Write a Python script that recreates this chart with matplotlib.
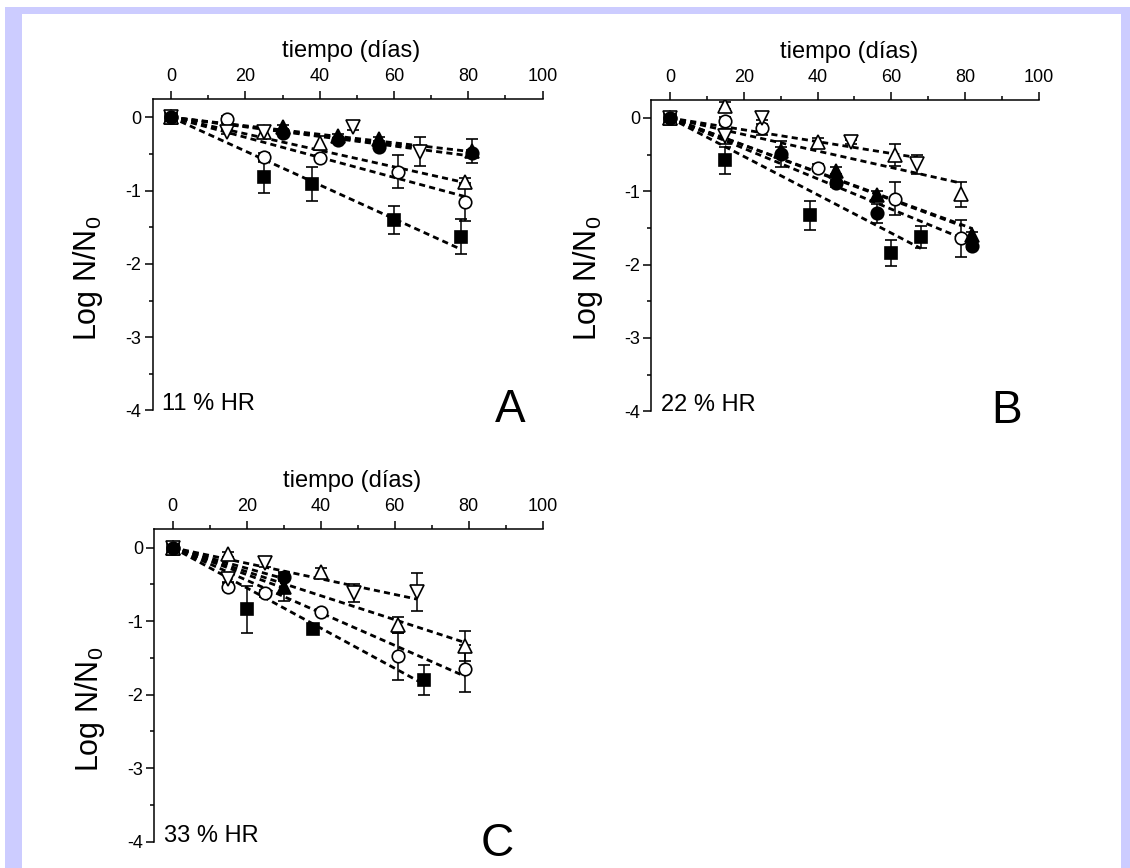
import matplotlib
matplotlib.use('Agg')
import matplotlib.pyplot as plt
from matplotlib.patches import Rectangle
from matplotlib.ticker import MultipleLocator

plt.rcParams['font.family'] = 'Liberation Sans'
plt.rcParams['axes.unicode_minus'] = False

# ---- panel A : 11 % HR ----
a_sq_t = [0, 25, 38, 60, 78]
a_sq = [0, -0.82, -0.91, -1.40, -1.63]
a_sq_err = [0.03, 0.21, 0.23, 0.19, 0.24]
a_oc_t = [0, 15, 25, 40, 61, 79]
a_oc = [0, -0.03, -0.54, -0.55, -0.74, -1.16]
a_oc_err = [0.03, 0.05, 0.05, 0.03, 0.22, 0.26]
a_ft_t = [0, 30, 45, 56, 81]
a_ft = [0, -0.13, -0.26, -0.30, -0.46]
a_ft_err = [0.03, 0.03, 0.03, 0.03, 0.16]
a_ot_t = [0, 25, 40, 79]
a_ot = [0, -0.20, -0.35, -0.88]
a_ot_err = [0.03, 0.05, 0.10, 0.05]
a_od_t = [0, 15, 25, 49, 67]
a_od = [0, -0.20, -0.20, -0.13, -0.47]
a_od_err = [0.03, 0.03, 0.05, 0.05, 0.20]
a_fc_t = [0, 30, 45, 56, 81]
a_fc = [0, -0.21, -0.31, -0.40, -0.49]
a_fc_err = [0.03, 0.03, 0.03, 0.03, 0.05]
# end value of each dashed fit line (sq, oc, ft, ot, od, fc)
a_fit_end = [-1.80, -1.08, -0.47, -0.89, -0.42, -0.53]

# ---- panel B : 22 % HR ----
b_sq_t = [0, 15, 38, 60, 68]
b_sq = [0, -0.58, -1.33, -1.84, -1.63]
b_sq_err = [0.03, 0.19, 0.20, 0.18, 0.15]
b_oc_t = [0, 15, 25, 40, 61, 79]
b_oc = [0, -0.04, -0.13, -0.68, -1.10, -1.64]
b_oc_err = [0.03, 0.05, 0.10, 0.05, 0.22, 0.25]
b_ft_t = [0, 30, 45, 56, 82]
b_ft = [0, -0.45, -0.72, -1.05, -1.60]
b_ft_err = [0.03, 0.05, 0.05, 0.05, 0.05]
b_ot_t = [0, 15, 40, 61, 79]
b_ot = [0, 0.17, -0.33, -0.51, -1.04]
b_ot_err = [0.03, 0.05, 0.05, 0.15, 0.17]
b_od_t = [0, 15, 25, 49, 67]
b_od = [0, -0.25, 0.0, -0.33, -0.63]
b_od_err = [0.03, 0.10, 0.08, 0.03, 0.13]
b_fc_t = [0, 30, 45, 56, 82]
b_fc = [0, -0.49, -0.89, -1.30, -1.74]
b_fc_err = [0.03, 0.18, 0.05, 0.13, 0.05]
b_fit_end = [-1.78, -1.47, -1.51, -0.89, -0.54, -1.70]

# ---- panel C : 33 % HR ----
c_sq_t = [0, 20, 38, 68]
c_sq = [0, -0.84, -1.10, -1.80]
c_sq_err = [0.03, 0.32, 0.03, 0.20]
c_oc_t = [0, 15, 25, 40, 61, 79]
c_oc = [0, -0.53, -0.62, -0.87, -1.48, -1.65]
c_oc_err = [0.03, 0.05, 0.05, 0.03, 0.32, 0.32]
c_ft_t = [0, 30]
c_ft = [0, -0.53]
c_ft_err = [0.03, 0.20]
c_ot_t = [0, 15, 40, 61, 79]
c_ot = [0, -0.09, -0.33, -1.05, -1.34]
c_ot_err = [0.03, 0.03, 0.05, 0.11, 0.20]
c_od_t = [0, 15, 25, 49, 66]
c_od = [0, -0.42, -0.21, -0.62, -0.60]
c_od_err = [0.03, 0.05, 0.05, 0.12, 0.26]
c_fc_t = [0, 30]
c_fc = [0, -0.40]
c_fc_err = [0.03, 0.05]
c_fit_end = [-1.86, -1.75, -0.55, -1.29, -0.70, -0.42]

# marker, face colour, size  (sq, oc, ft, ot, od, fc)
styles = [('s', 'black', 8), ('o', 'white', 9), ('^', 'black', 9.5),
          ('^', 'white', 9.5), ('v', 'white', 9.5), ('o', 'black', 9)]

panels = [
    ('A', '11 % HR', [0.1350, 0.5271, 0.3451, 0.3589],
     [(a_sq_t, a_sq, a_sq_err), (a_oc_t, a_oc, a_oc_err), (a_ft_t, a_ft, a_ft_err),
      (a_ot_t, a_ot, a_ot_err), (a_od_t, a_od, a_od_err), (a_fc_t, a_fc, a_fc_err)],
     a_fit_end, (0.878, -0.037)),
    ('B', '22 % HR', [0.5765, 0.5263, 0.3429, 0.3589],
     [(b_sq_t, b_sq, b_sq_err), (b_oc_t, b_oc, b_oc_err), (b_ft_t, b_ft, b_ft_err),
      (b_ot_t, b_ot, b_ot_err), (b_od_t, b_od, b_od_err), (b_fc_t, b_fc, b_fc_err)],
     b_fit_end, (0.878, -0.037)),
    ('C', '33 % HR', [0.1365, 0.0303, 0.3438, 0.3599],
     [(c_sq_t, c_sq, c_sq_err), (c_oc_t, c_oc, c_oc_err), (c_ft_t, c_ft, c_ft_err),
      (c_ot_t, c_ot, c_ot_err), (c_od_t, c_od, c_od_err), (c_fc_t, c_fc, c_fc_err)],
     c_fit_end, (0.84, -0.047)),
]

fig = plt.figure(figsize=(11.3, 8.68), dpi=100)
fig.patch.set_facecolor('white')
# lavender frame
fig.patches.append(Rectangle((5 / 1130, 0), 1125 / 1130, 861 / 868, transform=fig.transFigure,
                             facecolor='#ccccff', edgecolor='none', zorder=-2))
fig.patches.append(Rectangle((22 / 1130, 0), 1099 / 1130, 854 / 868, transform=fig.transFigure,
                             facecolor='white', edgecolor='none', zorder=-1))

for letter, hr, rect, series, fit_end, letter_pos in panels:
    ax = fig.add_axes(rect)
    ax.patch.set_visible(False)

    for (t, y, err), end in zip(series, fit_end):
        ax.plot([0, t[-1]], [0, end], color='black', lw=2, ls=(0, (2.2, 1.5)), zorder=1)

    for (t, y, err), (m, fc, ms) in zip(series, styles):
        ax.errorbar(t, y, yerr=err, fmt=m, mfc=fc, mec='black', ms=ms, mew=1.2,
                    ecolor='black', elinewidth=1.1, capsize=4, capthick=1.1, zorder=2)

    ax.set_xlim(-5, 100)
    ax.set_ylim(-4, 0.25)
    ax.spines['right'].set_visible(False)
    ax.spines['bottom'].set_visible(False)
    ax.spines['left'].set_linewidth(1.1)
    ax.spines['top'].set_linewidth(1.1)
    ax.xaxis.tick_top()
    ax.xaxis.set_major_locator(MultipleLocator(20))
    ax.xaxis.set_minor_locator(MultipleLocator(10))
    ax.yaxis.set_major_locator(MultipleLocator(1))
    ax.yaxis.set_minor_locator(MultipleLocator(0.5))
    ax.tick_params(which='major', direction='out', length=6, width=1.1, labelsize=13)
    ax.tick_params(which='minor', direction='out', length=3, width=1.1)
    ax.tick_params(axis='x', pad=4)
    ax.tick_params(axis='y', pad=2)

    ax.text(0.51, 1.135, 'tiempo (días)', transform=ax.transAxes, fontsize=17,
            ha='center', va='baseline')
    ax.text(-0.165, 0.425, 'Log N/N$\\mathregular{_0}$', transform=ax.transAxes,
            fontsize=22, rotation=90, ha='center', va='center')
    ax.text(0.024, 0.0, hr, transform=ax.transAxes, fontsize=17, ha='left', va='baseline')
    ax.text(letter_pos[0], letter_pos[1], letter, transform=ax.transAxes, fontsize=33,
            ha='left', va='baseline')

plt.savefig('out.png', dpi=100)
